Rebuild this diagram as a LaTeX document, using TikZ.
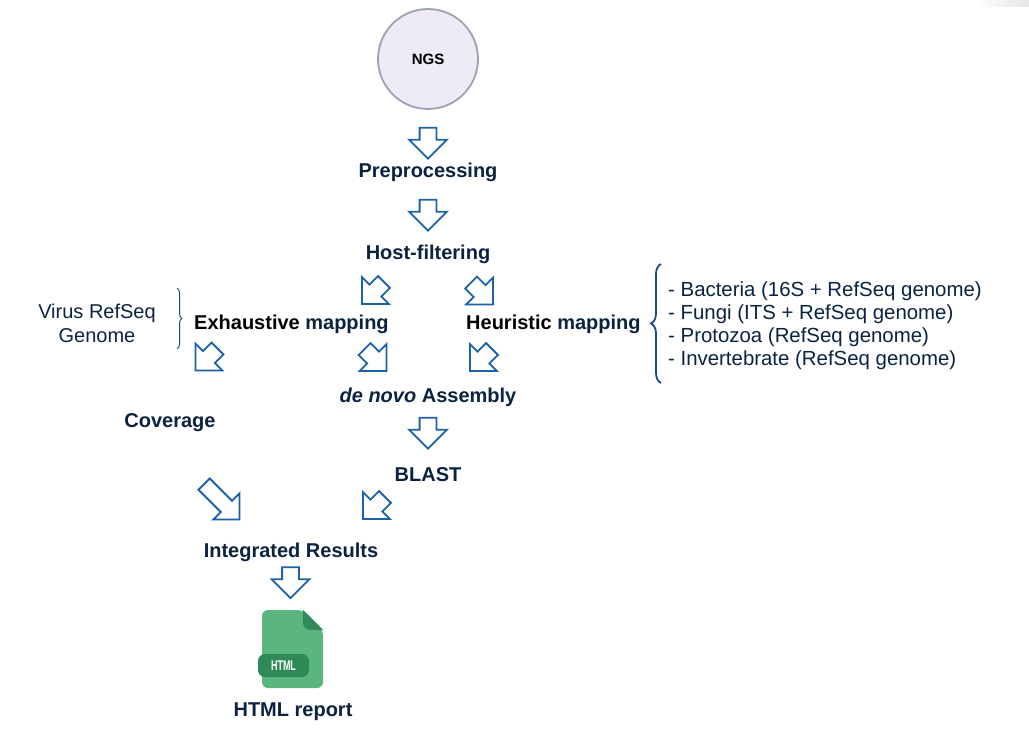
\documentclass[tikz,border=0pt]{standalone}
\usepackage{fontspec}
\setmainfont{Liberation Sans}
\usepackage{graphicx}
\usepackage{xcolor}
\usepackage{tikz}
\usetikzlibrary{shapes.arrows,decorations.pathreplacing,positioning,calc}
\definecolor{inknavy}{HTML}{0B2240}
\definecolor{arrowblue}{HTML}{1C62A8}
\definecolor{bracenavy}{HTML}{1F4A8A}
\definecolor{filegreen}{HTML}{5AB67E}
\definecolor{filedark}{HTML}{2E8B57}
\definecolor{circlefill}{HTML}{EEEAF6}
\definecolor{circleedge}{HTML}{9AA3B2}
\tikzset{
  stepname/.style={font=\bfseries\fontsize{20}{24}\selectfont, text=inknavy, inner sep=0pt},
  blockarrow/.style={single arrow, draw=arrowblue, line width=1.8pt, fill=white, inner sep=0pt,
    minimum height=31pt, minimum width=37pt, inner ysep=7.5pt, single arrow head extend=10.5pt,
    single arrow head indent=0pt},
  listline/.style={font=\fontsize{20.4}{24}\selectfont, text=inknavy, inner sep=0pt, anchor=west},
  sourcebrace/.style={draw=bracenavy, decorate},
}
\begin{document}
\begin{tikzpicture}[x=1pt,y=-1pt]
    \useasboundingbox (0,0) rectangle (1029,730);

    % Window shadow
    \shade[left color=white, right color=black!10] (975,0) rectangle (1029,7);

    % Source
    \node[circle, draw=circleedge, line width=1.8pt, fill=circlefill, minimum size=100pt, inner sep=0pt,
      font=\bfseries\fontsize{15}{18}\selectfont] (ngs) at (428,59) {NGS};

    % Steps
    \node[stepname] (preproc) at (428,172) {Preprocessing};
    \node[stepname] (hostfilter) at (428,254) {Host-filtering};
    \node[stepname, text=black, anchor=west] (exhaustive) at (194,324) {Exhaustive \textcolor{inknavy}{mapping}};
    \node[stepname, text=black, anchor=west] (heuristic) at (466,324) {Heuristic \textcolor{inknavy}{mapping}};
    \node[stepname] (denovo) at (428,397) {\textit{de novo} Assembly};
    \node[stepname] (coverage) at (170,423) {Coverage};
    \node[stepname] (blast) at (428,475) {BLAST};
    \node[stepname] (integrated) at (291,552) {Integrated Results};
    \node[stepname] (report) at (293,712) {HTML report};

    % Arrows
    \node[blockarrow, rotate=-90] (a1) at (428,139) {};
    \node[blockarrow, rotate=-90] (a2) at (428,211) {};
    \node[blockarrow, rotate=-135] (a3) at (376,290) {};
    \node[blockarrow, rotate=-45] (a4) at (479,290.5) {};
    \node[blockarrow, rotate=-135] (a5) at (209.5,356.5) {};
    \node[blockarrow, rotate=-45] (a6) at (372.5,357) {};
    \node[blockarrow, rotate=-135] (a7) at (484,357) {};
    \node[blockarrow, rotate=-90] (a8) at (428,429) {};
    \node[blockarrow, rotate=-45, minimum height=50pt, inner ysep=7pt] (a9) at (219,499) {};
    \node[blockarrow, rotate=-135] (a10) at (377,505) {};
    \node[blockarrow, rotate=-90] (a11) at (290.5,578.5) {};

    % Virus side
    \node[font=\fontsize{20}{24}\selectfont, align=center, inner sep=0pt, text=inknavy] (virus) at (97,323) {Virus RefSeq\\Genome};
    \coordinate (vtop) at (177,288);
    \coordinate (vbot) at (177,349);
    \draw[sourcebrace, line width=1pt, decoration={brace, amplitude=5pt}] (vtop) -- (vbot);

    % Reference list
    \node[listline] (bact) at (668,291) {- Bacteria (16S + RefSeq genome)};
    \node[listline] (fungi) at (668,314) {- Fungi (ITS + RefSeq genome)};
    \node[listline] (proto) at (668,337) {- Protozoa (RefSeq genome)};
    \node[listline] (invert) at (668,360) {- Invertebrate (RefSeq genome)};
    \coordinate (ltop) at (661,264);
    \coordinate (lbot) at (661,383);
    \draw[sourcebrace, line width=1.8pt, decoration={brace, amplitude=10pt}] (lbot) -- (ltop);

    % File icon
    \fill[filegreen, rounded corners=6pt] (262,610) -- (303,610) -- (323,630) -- (323,688) -- (262,688) -- cycle;
    \fill[filedark] (303,610) -- (323,630) -- (311,630) .. controls (306,630) and (303,627) .. (303,622) -- cycle;
    \node[fill=filedark, rounded corners=7pt, minimum width=51pt, minimum height=23pt, inner sep=0pt, text=white,
      font=\bfseries\fontsize{14}{16}\selectfont] (htmltag) at (283.5,665.5) {\scalebox{0.64}[1]{HTML}};
\end{tikzpicture}
\end{document}
